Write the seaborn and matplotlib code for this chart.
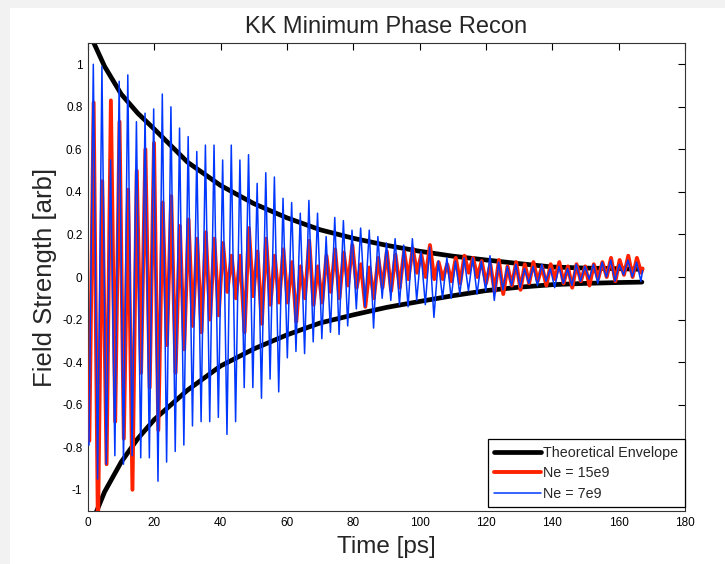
import numpy as np
import pandas as pd
import matplotlib
matplotlib.use("Agg")
import matplotlib.pyplot as plt
import seaborn as sns

# ---------------- data ----------------
env_t = [0, 5, 10, 15, 20, 30, 40, 50, 60, 70, 80, 90, 100, 110, 120, 130, 140, 150, 160, 167]
env_top = [1.16, 0.99, 0.86, 0.77, 0.695, 0.54, 0.43, 0.345, 0.278, 0.222, 0.182, 0.149,
           0.121, 0.098, 0.080, 0.063, 0.047, 0.042, 0.039, 0.036]
env_bot = [-1.2, -1.01, -0.87, -0.76, -0.67, -0.532, -0.418, -0.338, -0.272, -0.216, -0.178,
           -0.143, -0.115, -0.088, -0.064, -0.048, -0.036, -0.030, -0.026, -0.024]

period = 2.6          # ps, oscillation period of both reconstructions
blue_t0 = 0.3         # time of first minimum, Ne = 7e9
red_t0 = 0.4          # time of first minimum, Ne = 15e9
end_t = 167.2
blue_end = 0.03
red_end = 0.04

blue_max = [1.00, 0.99, 0.55, 0.92, 0.95, 0.73, 0.77, 0.79, 0.86, 0.80, 0.70, 0.66, 0.59, 0.62, 0.62, 0.55,
            0.62, 0.55, 0.575, 0.44, 0.49, 0.47, 0.37, 0.35, 0.30, 0.36, 0.30, 0.19, 0.28, 0.265, 0.22,
            0.23, 0.22, 0.19, 0.16, 0.18, 0.15, 0.18, 0.12, 0.14, 0.075, 0.09, 0.075, 0.09, 0.09, 0.075,
            0.10, 0.07, 0.05, 0.06, 0.04, 0.05, 0.06, 0.04, 0.05, 0.04, 0.06, 0.05, 0.06, 0.07, 0.08, 0.06, 0.08, 0.07]
blue_min = [-0.79, -0.95, -0.88, -0.84, -0.88, -0.84, -0.85, -0.85, -0.96, -0.87, -0.82, -0.79, -0.70, -0.68, -0.68, -0.66,
            -0.74, -0.68, -0.52, -0.52, -0.57, -0.48, -0.54, -0.38, -0.35, -0.36, -0.305, -0.29, -0.26, -0.27, -0.23,
            -0.15, -0.14, -0.24, -0.10, -0.11, -0.13, -0.14, -0.11, -0.13, -0.19, -0.10, -0.10, -0.08, -0.065, -0.08, -0.065,
            -0.11, -0.06, -0.04, -0.05, -0.03, -0.04, -0.02, -0.05, -0.03, -0.04, -0.02, -0.01, -0.03, 0.0, -0.02, 0.01, 0.0, -0.02]
red_max = [0.82, 0.45, 0.83, 0.73, 0.41, 0.50, 0.60, 0.63, 0.35, 0.38, 0.24, 0.27, 0.18, 0.21, 0.18, 0.16,
           0.10, 0.10, 0.23, 0.12, 0.18, 0.10, 0.13, 0.07, 0.05, 0.17, 0.05, 0.10, 0.13, 0.115, 0.15,
           0.06, 0.045, 0.09, 0.12, 0.105, 0.12, 0.135, 0.105, 0.15, 0.07, 0.06, 0.09, 0.10, 0.09, 0.075,
           0.06, 0.08, 0.05, 0.07, 0.06, 0.07, 0.05, 0.06, 0.07, 0.05, 0.06, 0.05, 0.06, 0.07, 0.09, 0.08, 0.10, 0.09]
red_min = [-0.77, -1.2, -0.88, -0.68, -0.76, -1.0, -0.45, -0.52, -0.72, -0.32, -0.45, -0.34, -0.23, -0.26, -0.20, -0.18,
           -0.07, -0.10, -0.26, -0.09, -0.22, -0.13, -0.12, -0.12, -0.21, -0.10, -0.13, -0.12, -0.07, -0.10, -0.04,
           -0.05, -0.14, -0.10, -0.05, -0.065, -0.05, -0.01, 0.02, 0.0, -0.01, -0.01, -0.02, -0.03, 0.02, 0.0, -0.03,
           -0.07, -0.08, -0.04, -0.06, -0.03, -0.02, -0.04, -0.01, -0.03, -0.05, -0.02, -0.04, -0.01, 0.0, -0.02, 0.01, 0.0, 0.02]

labels = ["Theoretical Envelope", "Ne = 15e9", "Ne = 7e9"]
x_ticks = [0, 20, 40, 60, 80, 100, 120, 140, 160, 180]
y_ticks = [-1, -0.8, -0.6, -0.4, -0.2, 0, 0.2, 0.4, 0.6, 0.8, 1]
y_ticklabels = ["-1", "-0.8", "-0.6", "-0.4", "-0.2", "0", "0.2", "0.4", "0.6", "0.8", "1"]


def build(mins, maxs, t0, tend, vend):
    t, v = [], []
    for k in range(len(mins)):
        t.append(t0 + k * period)
        v.append(mins[k])
        if k < len(maxs):
            t.append(t0 + period / 2 + k * period)
            v.append(maxs[k])
    t.append(tend)
    v.append(vend)
    return t, v


bt, bv = build(blue_min, blue_max, blue_t0, end_t, blue_end)
rt, rv = build(red_min, red_max, red_t0, end_t, red_end)

df_env_top = pd.DataFrame({"t": env_t, "v": env_top})
df_env_bot = pd.DataFrame({"t": env_t, "v": env_bot})
df_red = pd.DataFrame({"t": rt, "v": rv})
df_blue = pd.DataFrame({"t": bt, "v": bv})

# ---------------- styling ----------------
sns.set_style("white")
plt.rcParams["font.family"] = ["Liberation Sans", "DejaVu Sans"]
plt.rcParams["axes.unicode_minus"] = False

fig = plt.figure(figsize=(7.25, 5.64), dpi=100, facecolor="#f2f2f2")
fig.patches.append(matplotlib.patches.Rectangle((10 / 725, 0), 1, 1 - 8 / 564,
                                                 transform=fig.transFigure, facecolor="white",
                                                 edgecolor="none", zorder=-10))
ax = fig.add_axes([88 / 725, 1 - 511 / 564, 597 / 725, 468 / 564])
ax.set_facecolor("white")

red_c = "#ff2200"
blue_c = "#0038ff"

sns.lineplot(data=df_env_top, x="t", y="v", ax=ax, color="black", lw=3.4, sort=False,
             estimator=None, label=labels[0], zorder=2)
sns.lineplot(data=df_env_bot, x="t", y="v", ax=ax, color="black", lw=3.4, sort=False,
             estimator=None, label="_nolegend_", zorder=2)
sns.lineplot(data=df_red, x="t", y="v", ax=ax, color=red_c, lw=2.8, sort=False,
             estimator=None, label=labels[1], zorder=3)
sns.lineplot(data=df_blue, x="t", y="v", ax=ax, color=blue_c, lw=1.1, sort=False,
             estimator=None, label=labels[2], zorder=4)

ax.set_xlim(0, 180)
ax.set_ylim(-1.1, 1.1)
ax.set_xticks(x_ticks)
ax.set_xticklabels([str(v) for v in x_ticks])
ax.set_yticks(y_ticks)
ax.set_yticklabels(y_ticklabels)
ax.tick_params(direction="in", length=5, width=0.8, top=True, right=True,
               labelsize=8.5, colors="black", pad=4)
for s in ax.spines.values():
    s.set_visible(True)
    s.set_color("#333333")
    s.set_linewidth(0.8)

ax.set_title("KK Minimum Phase Recon", fontsize=17, pad=7)
ax.set_xlabel("Time [ps]", fontsize=17.5, labelpad=5)
ax.set_ylabel("Field Strength [arb]", fontsize=18.5, labelpad=4)

leg = ax.legend(loc="lower right", bbox_to_anchor=(1.0, 0.0085), borderaxespad=0,
                fontsize=10.3, frameon=True, fancybox=False, framealpha=1,
                edgecolor="black", handlelength=3.3, handletextpad=0.15,
                labelspacing=0.45, borderpad=0.45)
leg.get_frame().set_linewidth(0.9)

fig.savefig("out.png", dpi=100, facecolor=fig.get_facecolor())
